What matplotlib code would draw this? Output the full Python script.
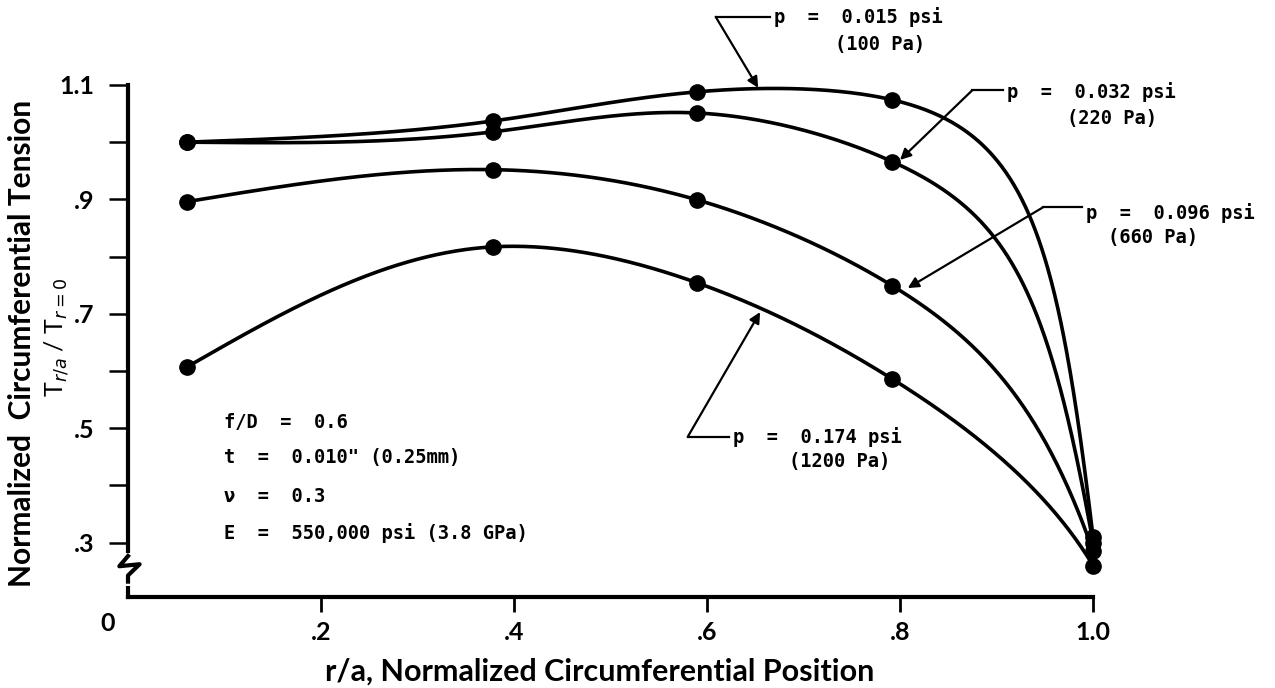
import numpy as np
import matplotlib.pyplot as plt

# r/a positions of the computed points
r_pos = [0.061, 0.378, 0.590, 0.792, 1.0]

# normalized circumferential tension for each pressure
t_015 = [1.000, 1.037, 1.088, 1.074, 0.310]
t_032 = [1.000, 1.018, 1.051, 0.966, 0.300]
t_096 = [0.896, 0.952, 0.899, 0.749, 0.285]
t_174 = [0.607, 0.817, 0.754, 0.586, 0.260]

x_ticks = [0.2, 0.4, 0.6, 0.8, 1.0]
x_labels = ['.2', '.4', '.6', '.8', '1.0']
y_major = [0.3, 0.5, 0.7, 0.9, 1.1]
y_labels = ['.3', '.5', '.7', '.9', '1.1']
y_minor = [0.4, 0.6, 0.8, 1.0]

XS, YS = 965.0, 572.0  # rough pixels per data unit, used for the spline


def spline(t, v, tt, end_slope):
    # natural at the start, clamped slope at the end
    t = np.asarray(t, float)
    v = np.asarray(v, float)
    n = len(t)
    h = np.diff(t)
    A = np.zeros((n, n))
    r = np.zeros(n)
    A[0, 0] = 1
    for i in range(1, n - 1):
        A[i, i - 1] = h[i - 1]
        A[i, i] = 2 * (h[i - 1] + h[i])
        A[i, i + 1] = h[i]
        r[i] = 3 * ((v[i + 1] - v[i]) / h[i] - (v[i] - v[i - 1]) / h[i - 1])
    A[-1, -2] = h[-1]
    A[-1, -1] = 2 * h[-1]
    r[-1] = 3 * (end_slope - (v[-1] - v[-2]) / h[-1])
    c = np.linalg.solve(A, r)
    b = (v[1:] - v[:-1]) / h - h * (2 * c[:-1] + c[1:]) / 3
    d = (c[1:] - c[:-1]) / (3 * h)
    idx = np.clip(np.searchsorted(t, tt) - 1, 0, n - 2)
    dt = tt - t[idx]
    return v[idx] + b[idx] * dt + c[idx] * dt ** 2 + d[idx] * dt ** 3


def smooth_curve(xs, ys, lean, speed, n=500):
    px = np.asarray(xs) * XS
    py = np.asarray(ys) * YS
    t = np.concatenate([[0], np.cumsum(np.hypot(np.diff(px), np.diff(py)))])
    tt = np.linspace(0, t[-1], n)
    u = speed * np.array([lean, -1.0]) / np.hypot(lean, 1.0)
    return spline(t, xs, tt, u[0] / XS), spline(t, ys, tt, u[1] / YS)


fig, ax = plt.subplots(figsize=(12.75, 6.88), dpi=100)
fig.subplots_adjust(left=0.1004, right=0.8573, top=0.8765, bottom=0.1323)

for ys, lean, speed in [(t_015, 0.12, 1.9), (t_032, 0.18, 1.8),
                        (t_096, 0.35, 1.4), (t_174, 0.6, 1.0)]:
    sx, sy = smooth_curve(r_pos, ys, lean, speed)
    ax.plot(sx, sy, color='black', lw=2.6, clip_on=False, zorder=3)
    ax.plot(r_pos, ys, 'o', color='black', ms=11, clip_on=False, zorder=4)

ax.set_xlim(0, 1.0)
ax.set_ylim(0.205, 1.1)

for side in ['top', 'right']:
    ax.spines[side].set_visible(False)
for side in ['left', 'bottom']:
    ax.spines[side].set_linewidth(3)

tick_font = {'family': 'Lato', 'weight': 'bold', 'size': 18}
ax.set_xticks(x_ticks)
ax.set_xticklabels(x_labels, fontdict=tick_font)
ax.set_yticks(y_major)
ax.set_yticklabels(y_labels, fontdict=tick_font)
ax.set_yticks(y_minor, minor=True)
ax.tick_params(axis='y', which='both', direction='out', length=14, width=1.8, pad=10)
ax.tick_params(axis='x', direction='out', length=11, width=2, pad=6)
ax.text(-0.021, -0.051, '0', transform=ax.transAxes, ha='center', va='center', **tick_font)

# axis break on the y axis
ax.plot([0, 0], [0.03, 0.08], transform=ax.transAxes, color='white', lw=5,
        clip_on=False, zorder=5)
ax.plot([0, -0.009, 0.012, 0, 0], [0.08, 0.060, 0.064, 0.042, 0.03],
        transform=ax.transAxes, color='black', lw=3, clip_on=False, zorder=6)

ax.set_xlabel('r/a, Normalized Circumferential Position', family='Lato',
              weight='bold', size=22)
ax.xaxis.set_label_coords(0.489, -0.146)
ax.xaxis.label.set_va('center')

fig.text(0.0173, 0.5015, 'Normalized  Circumferential Tension', rotation=90,
         ha='center', va='center', family='Lato', weight='bold', size=21.5)
fig.text(0.045, 0.51, r'T$_{r/a}$ / T$_{r=0}$', rotation=90,
         ha='center', va='center', family='Lato', size=18)

note_font = {'family': 'DejaVu Sans Mono', 'weight': 'bold', 'size': 13.5}

# pressure labels: line 1, line 2, leader corner, arrow tip, text x's, text y's
labels = [
    ('p  =  0.015 psi', '(100 Pa)', (0.609, 1.219), (0.653, 1.095), 0.669, 0.733, 1.218, 1.170),
    ('p  =  0.032 psi', '(220 Pa)', (0.875, 1.091), (0.800, 0.969), 0.911, 0.973, 1.088, 1.042),
    ('p  =  0.096 psi', '(660 Pa)', (0.948, 0.886), (0.808, 0.745), 0.993, 1.016, 0.876, 0.833),
    ('p  =  0.174 psi', '(1200 Pa)', (0.580, 0.485), (0.655, 0.703), 0.627, 0.685, 0.485, 0.441),
]
for line1, line2, corner, tip, tx, tx2, ty, ty2 in labels:
    ax.annotate('', xy=tip, xytext=corner, annotation_clip=False,
                arrowprops=dict(arrowstyle='-|>', color='black', lw=1.6,
                                mutation_scale=16, shrinkA=0, shrinkB=0))
    ax.plot([corner[0], tx - 0.004], [corner[1], corner[1]], color='black',
            lw=1.6, clip_on=False)
    ax.text(tx, ty, line1, ha='left', va='center', **note_font)
    ax.text(tx2, ty2, line2, ha='left', va='center', **note_font)

params = ['f/D  =  0.6', 't  =  0.010" (0.25mm)', '\u03bd  =  0.3',
          'E  =  550,000 psi (3.8 GPa)']
for i, s in enumerate(params):
    ax.text(0.0995, [0.510, 0.448, 0.380, 0.317][i], s, ha='left', va='center',
            **note_font)

plt.savefig('out.png', dpi=100)
